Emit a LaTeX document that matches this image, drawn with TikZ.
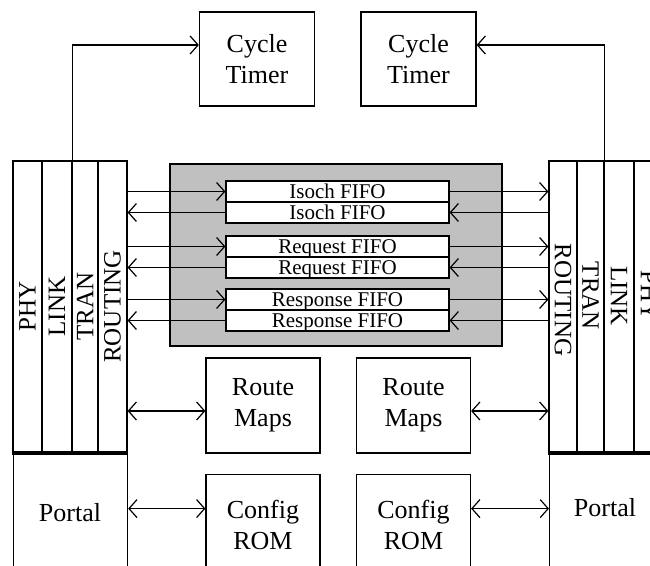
\documentclass[tikz,border=0pt]{standalone}
\usepackage{fontspec}
\setmainfont{Liberation Serif}
\usetikzlibrary{arrows.meta,calc}
\definecolor{coregray}{HTML}{C0C0C0}
\begin{document}
\begin{tikzpicture}[x=1pt,y=-1pt,
  line width=1.2pt,
  >={Straight Barb[length=8pt,width=18pt]},
  box/.style={draw, rectangle, inner sep=0pt, align=center, font=\fontsize{26}{31}\selectfont},
  fifo/.style={draw, fill=white, inner sep=0pt, minimum width=223pt, minimum height=21pt, text height=17pt, text depth=3pt, font=\fontsize{21}{21}\selectfont},
  layer/.style={draw, inner sep=0pt},
  vtext/.style={font=\fontsize{25}{25}\selectfont, inner sep=0pt},
  btext/.style={font=\fontsize{26}{31}\selectfont, inner sep=0pt},
]
\useasboundingbox (0,0) rectangle (650,565);
\fill[white] (0,0) rectangle (650,565);
\clip (0,0) rectangle (650,565);

% cycle timers
\node[box, minimum width=115pt, minimum height=94pt] (ct1) at (257,59) {Cycle\\Timer};
\node[box, minimum width=115pt, minimum height=94pt] (ct2) at (418.5,59) {Cycle\\Timer};

% left stack
\node[layer, minimum width=29pt, minimum height=291pt] (lphy)  at (27.5,306.5) {};
\node[layer, minimum width=30pt, minimum height=291pt] (llink) at (57,306.5) {};
\node[layer, minimum width=26pt, minimum height=291pt] (ltran) at (85,306.5) {};
\node[layer, minimum width=29pt, minimum height=291pt] (lrout) at (112.5,306.5) {};
\node[vtext, rotate=90] (tlphy)  at (lphy)  {PHY};
\node[vtext, rotate=90] (tllink) at (llink) {LINK};
\node[vtext, rotate=90] (tltran) at (ltran) {TRAN};
\node[vtext, rotate=90] (tlrout) at (lrout) {ROUTING};
\node[layer, anchor=north west, minimum width=114pt, minimum height=140pt] (lportal) at (13,452) {};
\node[btext] (tlportal) at (70,513) {Portal};
\draw[line width=4pt] (lphy.south west) -- (lrout.south east);

% right stack
\node[layer, minimum width=28pt, minimum height=291pt] (rrout) at (563,306.5) {};
\node[layer, minimum width=27pt, minimum height=291pt] (rtran) at (590.5,306.5) {};
\node[layer, minimum width=30pt, minimum height=291pt] (rlink) at (619,306.5) {};
\node[layer, minimum width=30pt, minimum height=291pt] (rphy)  at (649,306.5) {};
\node[vtext, rotate=-90] (trrout) at (563,300) {ROUTING};
\node[vtext, rotate=-90] (trtran) at (590.5,296) {TRAN};
\node[vtext, rotate=-90] (trlink) at (619,296) {LINK};
\node[vtext, rotate=-90] (trphy)  at (649,296) {PHY};
\node[layer, anchor=north west, minimum width=114pt, minimum height=140pt] (rportal) at (549,452) {};
\node[btext] (trportal) at (605,508) {Portal};
\draw[line width=4pt] (rrout.south west) -- (rphy.south east);

% core
\node[draw, fill=coregray, minimum width=332pt, minimum height=182pt] (core) at (336,255) {};
\node[fifo] (iso1) at (337.5,191.5) {Isoch FIFO};
\node[fifo] (iso2) at (337.5,212.5) {Isoch FIFO};
\node[fifo] (req1) at (337.5,246.5) {Request FIFO};
\node[fifo] (req2) at (337.5,267.5) {Request FIFO};
\node[fifo] (res1) at (337.5,299.5) {Response FIFO};
\node[fifo] (res2) at (337.5,320.5) {Response FIFO};

% route maps / config rom
\node[box, minimum width=114pt, minimum height=95pt] (rm1) at (263,405.5) {Route\\Maps};
\node[box, minimum width=114pt, minimum height=95pt] (rm2) at (413.5,405.5) {Route\\Maps};
\node[box, anchor=north, minimum width=114pt, minimum height=100pt] (cr1) at (263,474) {Config\\ROM};
\node[box, anchor=north, minimum width=114pt, minimum height=100pt] (cr2) at (413.5,474) {Config\\ROM};

% timer connectors
\draw[->] (llink.north east) |- ($(ct1.west)+(0,-14)$);
\draw[->] (rtran.north east) |- ($(ct2.east)+(0,-14)$);

% fifo connectors
\foreach \a/\b in {iso1/iso2, req1/req2, res1/res2}{
  \draw[->] (lrout.east |- \a.west) -- (\a.west);
  \draw[->] (\b.west) -- (lrout.east |- \b.west);
  \draw[->] (\a.east) -- (rrout.west |- \a.east);
  \draw[->] (rrout.west |- \b.east) -- (\b.east);
}

% route / config connectors
\draw[<->] ($(lrout.east |- rm1.west)+(0,5.5)$) -- ($(rm1.west)+(0,5.5)$);
\draw[<->] ($(rm2.east)+(0,5.5)$) -- ($(rrout.west |- rm2.east)+(0,5.5)$);
\draw[<->] ($(lportal.east |- cr1.west)+(0,-16)$) -- ($(cr1.west)+(0,-16)$);
\draw[<->] ($(cr2.east)+(0,-16)$) -- ($(rportal.west |- cr2.east)+(0,-16)$);
\end{tikzpicture}
\end{document}
